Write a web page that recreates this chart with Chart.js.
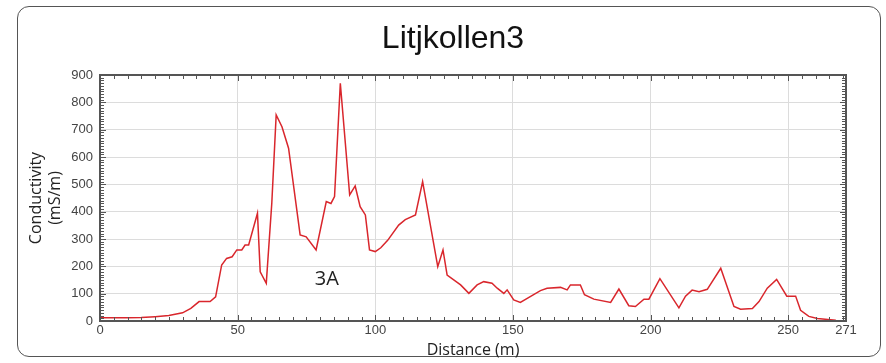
<!DOCTYPE html>
<html>
<head>
<meta charset="utf-8">
<script src="https://cdn.jsdelivr.net/npm/chart.js@4"></script>
<style>
  html, body { margin: 0; padding: 0; background: #fff; }
  #card {
    position: absolute; left: 17px; top: 6px; width: 862px; height: 349px;
    border: 1.6px solid #555; border-radius: 12px;
  }
  #wrap { position: absolute; left: 0; top: 0; width: 886px; height: 363px; }
</style>
</head>
<body>
<div id="card"></div>
<div id="wrap"><canvas id="chart" width="886" height="363"></canvas></div>
<script>
// Distance (m) along the profile
const distance = [0, 5, 10, 15, 20, 25, 30, 33, 36, 40, 42, 44.2, 46, 48, 49.7, 51.5, 52.7, 54,
  57.2, 58.2, 60.4, 62.4, 64, 66.1, 68.5, 72.7, 74.9, 78.5, 82.2, 83.9, 85.2, 87.3, 90.7, 92.7,
  94.5, 96.4, 97.9, 100, 102, 104.5, 108.5, 110.9, 114.6, 117.2, 122.7, 124.6, 126.1, 131, 134,
  137, 139.4, 142.4, 144.3, 146.7, 147.9, 150.3, 152.7, 155.2, 160, 162.4, 167.3, 169.7, 170.9,
  174.5, 176, 179.4, 185.5, 188.5, 192.1, 194.5, 197.6, 199.4, 203.4, 210.3, 212.7, 215.1, 217.6,
  220.6, 225.5, 230.3, 232.7, 237, 239.4, 242.4, 245.8, 249.5, 252.7, 254.5, 257.5, 260.6, 267.3];
// Conductivity (mS/m)
const conductivity = [12, 12, 12, 13, 16, 20, 30, 46, 71, 71, 88, 205, 229, 235, 260, 260, 278, 278,
  394, 180, 138, 430, 754, 711, 632, 315, 308, 260, 437, 430, 455, 870, 461, 494,
  418, 388, 260, 254, 268, 295, 351, 371, 388, 510, 199, 260, 168, 132, 101,
  132, 144, 138, 120, 101, 114, 77, 68, 83, 111, 120, 123, 114, 132,
  132, 96, 80, 68, 117, 56, 53, 80, 80, 155, 48, 91, 113, 107,
  116, 193, 53, 43, 46, 71, 120, 152, 91, 91, 39, 17, 9, 3];
const xTicks = [0, 50, 100, 150, 200, 250, 271];
const xMax = 271;
const yMax = 900;

// Cadre + petites graduations internes + annotation
const framePlugin = {
  id: 'frame',
  afterDraw(chart) {
    const { ctx, chartArea: a, scales: { x, y } } = chart;
    ctx.save();
    ctx.strokeStyle = '#555';
    ctx.lineWidth = 1;
    ctx.beginPath();
    for (let v = 0; v <= xMax; v += 5) {
      const px = Math.round(x.getPixelForValue(v)) + 0.5;
      const len = v % 50 === 0 ? 6 : 4;
      ctx.moveTo(px, a.bottom); ctx.lineTo(px, a.bottom - len);
      ctx.moveTo(px, a.top); ctx.lineTo(px, a.top + len);
    }
    for (let v = 0; v <= yMax; v += 10) {
      const py = Math.round(y.getPixelForValue(v)) + 0.5;
      const len = v % 100 === 0 ? 6 : 4;
      ctx.moveTo(a.left, py); ctx.lineTo(a.left + len, py);
      ctx.moveTo(a.right, py); ctx.lineTo(a.right - len, py);
    }
    ctx.stroke();
    ctx.lineWidth = 2;
    ctx.strokeStyle = '#555';
    ctx.strokeRect(a.left, a.top, a.right - a.left, a.bottom - a.top);
    // étiquette 3A
    ctx.fillStyle = '#222';
    ctx.font = '20px "Open Sans"';
    ctx.textAlign = 'center';
    ctx.textBaseline = 'middle';
    ctx.fillText('3A', x.getPixelForValue(82.4), y.getPixelForValue(151));
    ctx.restore();
  }
};

const ctx = document.getElementById('chart').getContext('2d');
new Chart(ctx, {
  type: 'line',
  data: {
    datasets: [{
      data: distance.map((d, i) => ({ x: d, y: conductivity[i] })),
      borderColor: '#d9262c',
      borderWidth: 1.5,
      pointRadius: 0,
      tension: 0,
      fill: false
    }]
  },
  options: {
    responsive: false,
    animation: false,
    layout: { padding: { left: 20, right: 0, top: 0, bottom: 0 } },
    plugins: {
      legend: { display: false },
      tooltip: { enabled: false },
      title: {
        display: true,
        text: 'Litjkollen3',
        color: '#111',
        font: { family: 'Liberation Sans', size: 32, weight: 'normal', lineHeight: 1.2 },
        padding: { top: 20, bottom: 16.6 }
      }
    },
    scales: {
      x: {
        type: 'linear',
        min: 0,
        max: xMax,
        afterBuildTicks(scale) {
          scale.ticks = xTicks.map(v => ({ value: v }));
        },
        afterFit(scale) { scale.height = 42; },
        grid: {
          color: c => (c.tick && (c.tick.value === 0 || c.tick.value === xMax)) ? 'rgba(0,0,0,0)' : '#dcdcdc',
          lineWidth: 1,
          tickLength: 0,
          drawTicks: false
        },
        border: { display: false },
        ticks: {
          autoSkip: false,
          maxRotation: 0,
          padding: 2,
          color: '#444',
          font: { family: 'Liberation Sans', size: 13 },
          callback: v => String(v)
        },
        title: {
          display: true,
          text: 'Distance (m)',
          color: '#222',
          font: { family: 'Open Sans', size: 16, lineHeight: 1.2 },
          padding: { top: 0, bottom: 3 }
        }
      },
      y: {
        min: 0,
        max: yMax,
        afterFit(scale) { scale.width = 80; },
        grid: {
          color: c => (c.tick && (c.tick.value === 0 || c.tick.value === yMax)) ? 'rgba(0,0,0,0)' : '#dcdcdc',
          lineWidth: 1,
          tickLength: 0,
          drawTicks: false
        },
        border: { display: false },
        ticks: {
          stepSize: 100,
          padding: 7,
          color: '#444',
          font: { family: 'Liberation Sans', size: 13 }
        },
        title: {
          display: true,
          text: ['Conductivity', '(mS/m)'],
          color: '#222',
          font: { family: 'Open Sans', size: 16, lineHeight: 1.2 },
          padding: { top: 7, bottom: 0 }
        }
      },
      // axe vide à droite pour réserver la marge
      yRight: {
        position: 'right',
        display: true,
        afterFit(scale) { scale.width = 40; },
        grid: { display: false, drawTicks: false },
        border: { display: false },
        ticks: { display: false }
      }
    }
  },
  plugins: [framePlugin]
});
</script>
</body>
</html>
